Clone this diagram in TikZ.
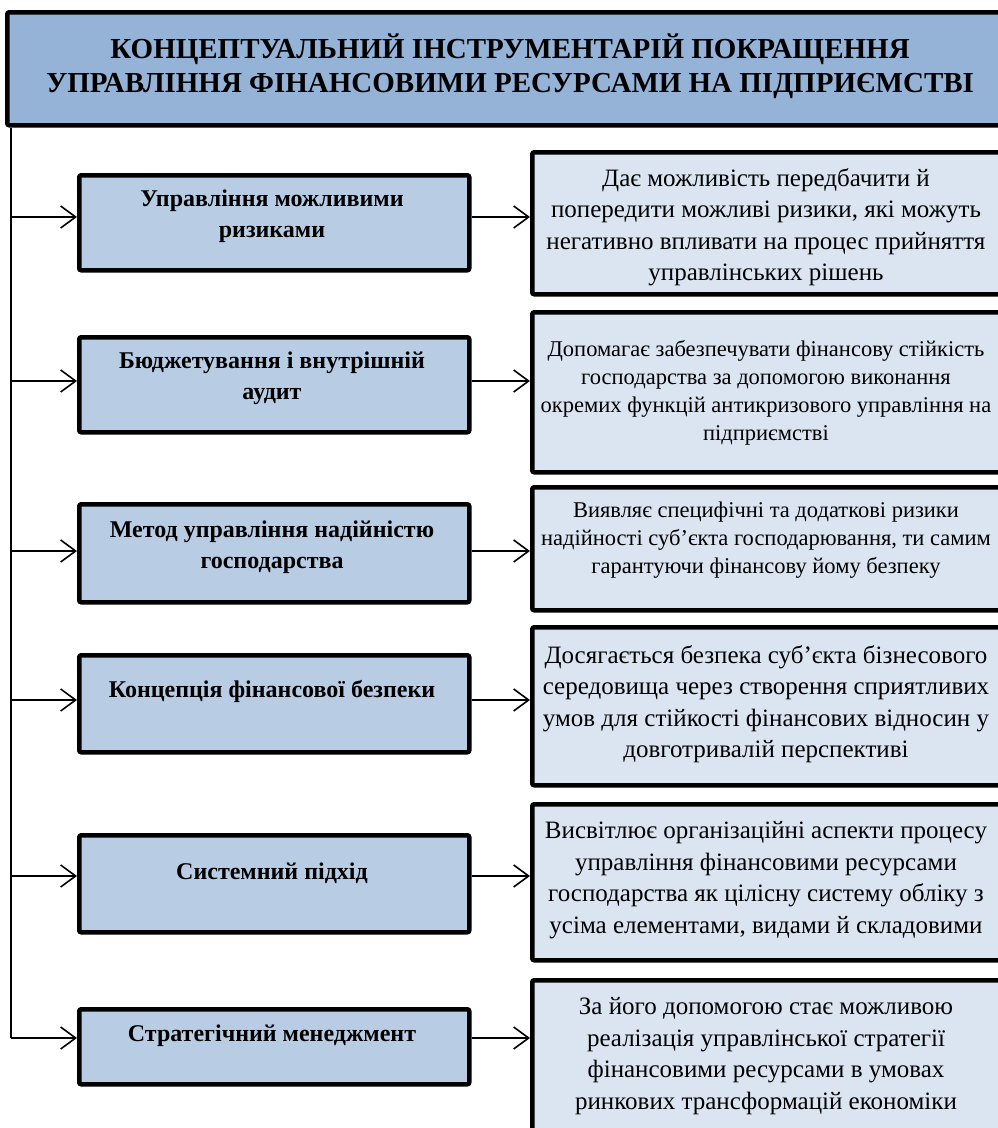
\documentclass[tikz,border=0pt]{standalone}
\usepackage{fontspec}
\setmainfont{Liberation Serif}
\usetikzlibrary{arrows.meta}
\definecolor{titlefill}{HTML}{95B3D7}
\definecolor{leftfill}{HTML}{B8CCE4}
\definecolor{rightfill}{HTML}{DBE5F1}
\begin{document}
\begin{tikzpicture}[x=1pt,y=-1pt,
  box/.style={draw=black, line width=4.5pt, rounded corners=2pt, anchor=north west, inner sep=0pt},
  titlebox/.style={box, fill=titlefill},
  lbox/.style={box, fill=leftfill, minimum width=390pt},
  rbox/.style={box, fill=rightfill, minimum width=472pt},
  ttext/.style={font=\bfseries\fontsize{29}{34}\selectfont, align=center, inner sep=0pt},
  ltext/.style={font=\bfseries\fontsize{24}{31}\selectfont, align=center, inner sep=0pt},
  rtext/.style={font=\fontsize{25}{31.5}\selectfont, align=center, inner sep=0pt},
  rtextsm/.style={font=\fontsize{22.5}{28}\selectfont, align=center, inner sep=0pt},
  wire/.style={line width=1.6pt},
  conn/.style={wire, -{Straight Barb[length=15pt,width=22pt,line width=1.6pt]}}
]
\path[use as bounding box] (0,0) rectangle (998,1128);
\clip (0,0) rectangle (998,1128);

% title
\node[titlebox, minimum width=1010pt, minimum height=113pt] (title) at (5,10) {};
\node[ttext] (titletext) at (510,66) {КОНЦЕПТУАЛЬНИЙ ІНСТРУМЕНТАРІЙ ПОКРАЩЕННЯ\\УПРАВЛІННЯ ФІНАНСОВИМИ РЕСУРСАМИ НА ПІДПРИЄМСТВІ};

% left boxes
\node[lbox, minimum height=95pt] (l1) at (77,173) {};
\node[ltext] (l1t) at (272,216) {Управління можливими\\ризиками};
\node[lbox, minimum height=95pt] (l2) at (77,335) {};
\node[ltext] (l2t) at (272,378) {Бюджетування і внутрішній\\аудит};
\node[lbox, minimum height=98pt] (l3) at (77,502) {};
\node[ltext] (l3t) at (272,547) {Метод управління надійністю\\господарства};
\node[lbox, minimum height=97pt] (l4) at (77,653) {};
\node[ltext] (l4t) at (272,691) {Концепція фінансової безпеки};
\node[lbox, minimum height=97pt] (l5) at (77,833) {};
\node[ltext] (l5t) at (272,873) {Системний підхід};
\node[lbox, minimum height=75pt] (l6) at (77,1007) {};
\node[ltext] (l6t) at (272,1036) {Стратегічний менеджмент};

% right boxes
\node[rbox, minimum height=142pt] (r1) at (530,150) {};
\node[rtext] (r1t) at (766,227) {Дає можливість передбачити й\\попередити можливі ризики, які можуть\\негативно впливати на процес прийняття\\управлінських рішень};
\node[rbox, minimum height=160pt] (r2) at (530,310) {};
\node[rtextsm] (r2t) at (766,393) {Допомагає забезпечувати фінансову стійкість\\господарства за допомогою виконання\\окремих функцій антикризового управління на\\підприємстві};
\node[rbox, minimum height=123pt] (r3) at (530,485) {};
\node[rtextsm] (r3t) at (766,540) {Виявляє специфічні та додаткові ризики\\надійності суб’єкта господарювання, ти самим\\гарантуючи фінансову йому безпеку};
\node[rbox, minimum height=158pt] (r4) at (530,625) {};
\node[rtext] (r4t) at (766,704) {Досягається безпека суб’єкта бізнесового\\середовища через створення сприятливих\\умов для стійкості фінансових відносин у\\довготривалій перспективі};
\node[rbox, minimum height=156pt] (r5) at (530,802) {};
\node[rtext] (r5t) at (766,880) {Висвітлює організаційні аспекти процесу\\управління фінансовими ресурсами\\господарства як цілісну систему обліку з\\усіма елементами, видами й складовими};
\node[rbox, minimum height=165pt] (r6) at (530,978) {};
\node[rtext] (r6t) at (766,1056) {За його допомогою стає можливою\\реалізація управлінської стратегії\\фінансовими ресурсами в умовах\\ринкових трансформацій економіки};

% junctions on the spine
\coordinate (j1) at (11,217);
\coordinate (j2) at (11,381);
\coordinate (j3) at (11,551);
\coordinate (j4) at (11,700);
\coordinate (j5) at (11,876);
\coordinate (j6) at (11,1038);

\draw[wire] (title.south -| j1) -- (j6);
\foreach \i in {1,...,6}{
  \draw[conn] (j\i) -- (j\i -| l\i.west);
  \draw[conn] (j\i -| l\i.east) -- (j\i -| r\i.west);
}
\end{tikzpicture}
\end{document}
